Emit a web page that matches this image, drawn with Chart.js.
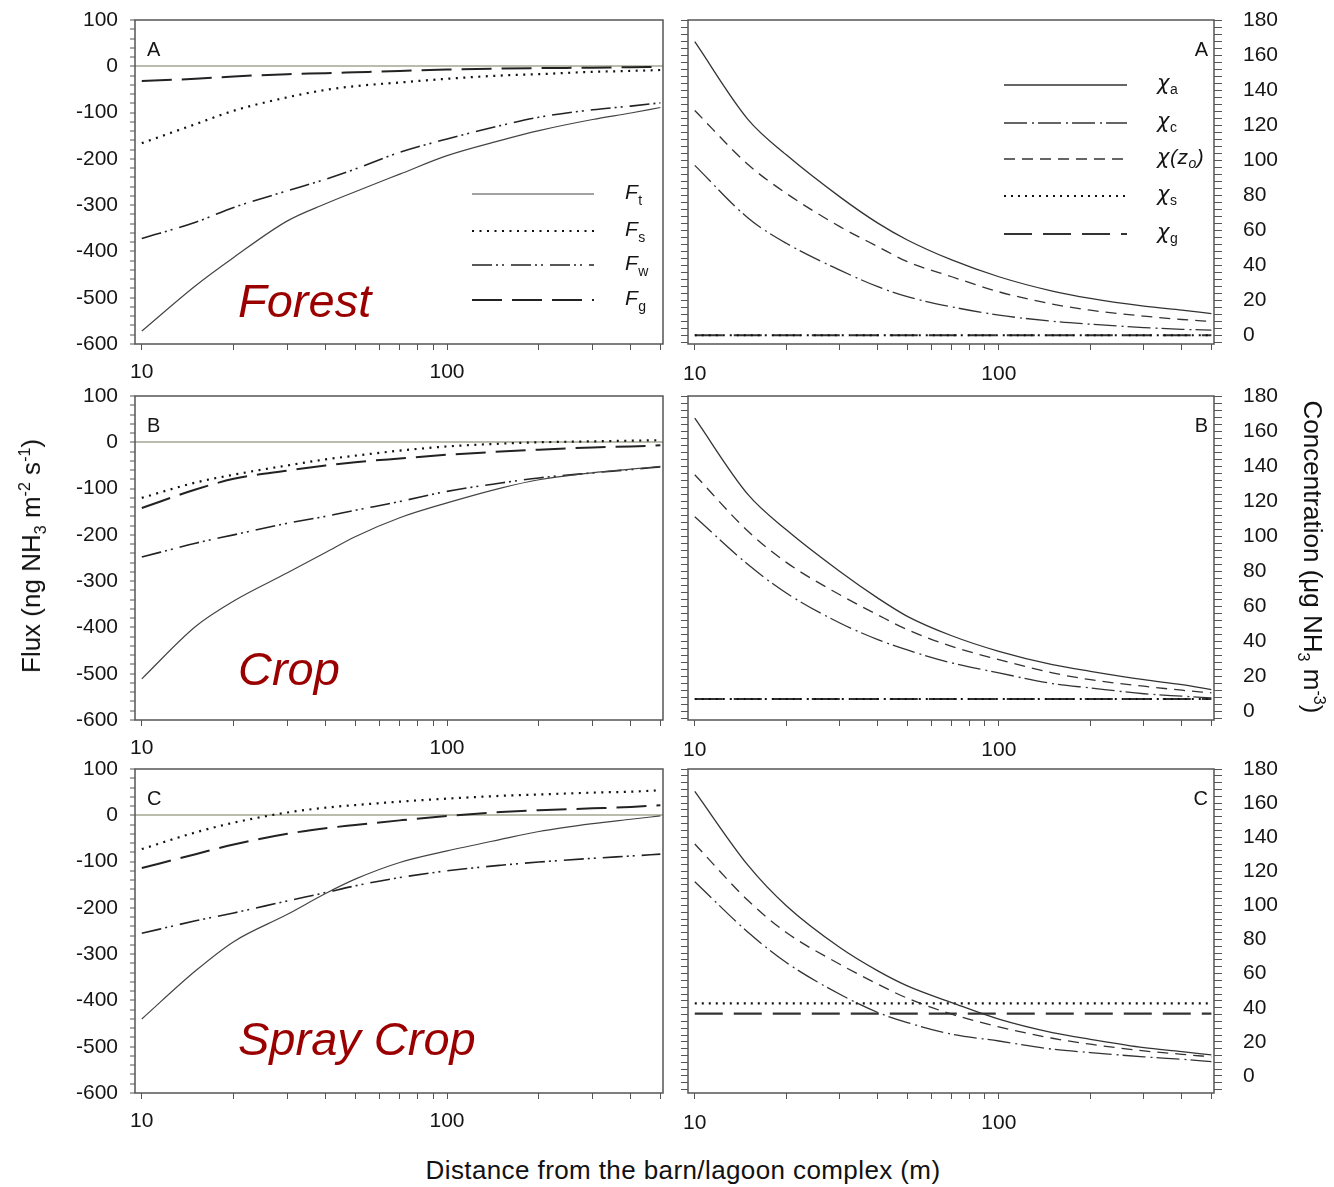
<!DOCTYPE html>
<html>
<head>
<meta charset="utf-8">
<script src="https://cdn.jsdelivr.net/npm/chart.js@4.4.1/dist/chart.umd.min.js"></script>
<style>
  body { margin: 0; background: #fff; width: 1334px; height: 1187px; position: relative; overflow: hidden;
         font-family: "Liberation Sans", Arial, sans-serif; color: #111; }
  canvas { position: absolute; }
  .title { position: absolute; white-space: nowrap; font-size: 26px; line-height: 1; }
  .title sub, .title sup { font-size: 0.62em; line-height: 0; }
  .rot-l { transform: translate(-50%, -50%) rotate(-90deg); }
  .rot-r { transform: translate(-50%, -50%) rotate(90deg); }
</style>
</head>
<body>

<canvas id="fluxA" width="640" height="384" style="left:40px; top:6px"></canvas>
<canvas id="concA" width="618" height="384" style="left:672px; top:6px"></canvas>
<canvas id="fluxB" width="640" height="384" style="left:40px; top:382px"></canvas>
<canvas id="concB" width="618" height="384" style="left:672px; top:382px"></canvas>
<canvas id="fluxC" width="640" height="384" style="left:40px; top:755px"></canvas>
<canvas id="concC" width="618" height="384" style="left:672px; top:755px"></canvas>

<div class="title rot-l" style="left:31px; top:556px">Flux (ng NH<sub>3</sub> m<sup>-2</sup> s<sup>-1</sup>)</div>
<div class="title rot-r" style="left:1313px; top:557px">Concentration (&mu;g NH<sub>3</sub> m<sup>-3</sup>)</div>
<div class="title" style="left:683px; top:1157px; letter-spacing:0.4px; transform: translateX(-50%)">Distance from the barn/lagoon complex (m)</div>

<script>
const distances = [10, 15, 20, 30, 40, 50, 70, 100, 150, 200, 300, 400, 500];

// flux, ng NH3 m-2 s-1  (Ft total, Fs stomatal, Fw cuticle/water, Fg ground)
const forestFt = [-572, -474, -413, -334, -297, -271, -233, -193, -160, -139, -115, -101, -89];
const forestFs = [-166, -125, -96, -67, -51, -43, -35, -27, -20, -17, -12, -10, -8];
const forestFw = [-372, -337, -305, -269, -244, -222, -186, -157, -128, -110, -94, -86, -79];
const forestFg = [-32, -27, -22, -17, -15, -13, -10, -7, -5, -4, -3, -2, -1];

const cropFt = [-511, -398, -343, -282, -238, -204, -163, -131, -99, -81, -66, -58, -52];
const cropFs = [-120, -87, -70, -50, -37, -29, -18, -9, -3, 0, 2, 3.5, 4.5];
const cropFw = [-248, -218, -200, -175, -160, -147, -128, -106, -88, -77, -66, -59, -53];
const cropFg = [-142, -102, -79, -61, -50, -43, -35, -27, -20, -16, -11, -9, -6.5];

const sprayFt = [-440, -336, -273, -214, -169, -138, -102, -77, -52, -35, -18, -8.6, -1.4];
const sprayFs = [-73, -37, -16, 6, 16.5, 22, 29.5, 36, 42, 45, 49, 51, 54];
const sprayFw = [-255, -228, -211, -185, -167, -152.5, -134.5, -120, -108, -101, -93, -88, -84];
const sprayFg = [-114, -84, -63, -40, -28, -21, -11, -1.4, 7, 11, 15, 18, 21.6];

// concentration, ug NH3 m-3
const forestXa = [167.6, 123, 103, 79, 64, 54.4, 43, 33.4, 25.2, 21, 16.6, 14.3, 12.4];
const forestXc = [97, 66.8, 52.5, 37.2, 27.7, 22, 16.2, 11.5, 8, 6.3, 4.4, 3.4, 2.9];
const forestXz0 = [128.3, 97.3, 81, 62, 50.6, 42, 33.4, 24.8, 17.8, 14.3, 10.9, 9, 7.8];
const forestXs = [0, 0, 0, 0, 0, 0, 0, 0, 0, 0, 0, 0, 0];
const forestXg = [0, 0, 0, 0, 0, 0, 0, 0, 0, 0, 0, 0, 0];

const cropXa = [167.3, 123.5, 103.6, 79.8, 64.6, 54.2, 43.1, 34.2, 26.6, 22.8, 18, 15.2, 12.4];
const cropXc = [111, 83.6, 67.5, 50.4, 40.9, 35, 27.6, 21.9, 15.8, 13.3, 10, 8.6, 7.6];
const cropXz0 = [135, 102.6, 85, 66.5, 55, 46.6, 37, 29.5, 21.9, 18, 14.3, 12, 10.5];
const cropXs = [7, 7, 7, 7, 7, 7, 7, 7, 7, 7, 7, 7, 7];
const cropXg = [7, 7, 7, 7, 7, 7, 7, 7, 7, 7, 7, 7, 7];

const sprayXa = [166.9, 123.3, 99.8, 75.3, 61.6, 52.8, 43, 33.3, 25.4, 21.5, 16.6, 14.3, 12.3];
const sprayXc = [113.9, 84.1, 66.5, 47.9, 37.2, 31.3, 24.5, 20.5, 15.7, 13.7, 11.2, 9.8, 8.4];
const sprayXz0 = [136, 102.7, 84.1, 65.5, 53.8, 45.6, 36.2, 28.8, 22.1, 18.6, 14.7, 12.7, 11.2];
const sprayXs = [42.5, 42.5, 42.5, 42.5, 42.5, 42.5, 42.5, 42.5, 42.5, 42.5, 42.5, 42.5, 42.5];
const sprayXg = [36.5, 36.5, 36.5, 36.5, 36.5, 36.5, 36.5, 36.5, 36.5, 36.5, 36.5, 36.5, 36.5];

// tick values
const xTicks = [10, 20, 30, 40, 50, 60, 70, 80, 90, 100, 200, 300, 400, 500];
const xTickLabels = [10, 100];
const fluxTicks = [];
for (let v = -600; v <= 100; v += 20) fluxTicks.push(v);
const concTicks = [];
for (let v = -8; v <= 180; v += 4) concTicks.push(v);

const FONT = '"Liberation Sans", Arial, sans-serif';
const GREEK = '"DejaVu Sans", "Liberation Sans", sans-serif';
Chart.defaults.font.family = FONT;
Chart.defaults.font.size = 21;
Chart.defaults.color = '#151515';

const fluxStyles = [
    { label: 'Ft', borderColor: '#444', borderWidth: 1.2, borderDash: [] },
    { label: 'Fs', borderColor: '#111', borderWidth: 2.2, borderDash: [2, 5.5] },
    { label: 'Fw', borderColor: '#222', borderWidth: 1.6, borderDash: [20, 4, 2, 4, 2, 7] },
    { label: 'Fg', borderColor: '#222', borderWidth: 2, borderDash: [30, 10] }
];
const concStyles = [
    { label: 'χa', borderColor: '#333', borderWidth: 1.3, borderDash: [] },
    { label: 'χc', borderColor: '#333', borderWidth: 1.3, borderDash: [23, 5, 2, 4] },
    { label: 'χ(z0)', borderColor: '#333', borderWidth: 1.3, borderDash: [11, 7] },
    { label: 'χs', borderColor: '#111', borderWidth: 2.2, borderDash: [2, 5] },
    { label: 'χg', borderColor: '#333', borderWidth: 2.2, borderDash: [28, 11] }
];

function toPoints(vals) {
    return distances.map((d, i) => ({ x: d, y: vals[i] }));
}

function buildSets(styles, seriesList) {
    return styles.map((s, i) => Object.assign({
        data: toPoints(seriesList[i]),
        pointRadius: 0,
        cubicInterpolationMode: 'monotone',
        fill: false,
        borderCapStyle: 'butt'
    }, s));
}

// frame, panel letter, site name and legend
const panelDecor = {
    id: 'panelDecor',
    afterDraw(chart, args, opts) {
        const ctx = chart.ctx;
        const a = chart.chartArea;
        ctx.save();
        ctx.strokeStyle = '#555';
        ctx.lineWidth = 1.5;
        ctx.setLineDash([]);
        ctx.strokeRect(a.left, a.top, a.right - a.left, a.bottom - a.top);

        ctx.fillStyle = '#151515';
        ctx.textBaseline = 'alphabetic';
        ctx.font = '20px ' + FONT;
        if (opts.side === 'left') {
            ctx.textAlign = 'left';
            ctx.fillText(opts.letter, a.left + 12, a.top + 36);
        } else {
            ctx.textAlign = 'right';
            ctx.fillText(opts.letter, a.right - 6, a.top + 36);
        }

        if (opts.site) {
            ctx.textAlign = 'left';
            ctx.fillStyle = '#9a0000';
            ctx.font = 'italic 47px ' + FONT;
            ctx.fillText(opts.site, a.left + 103, a.top + opts.siteY);
        }

        if (opts.legend) {
            const lg = opts.legend;
            chart.data.datasets.forEach((ds, i) => {
                const y = a.top + lg.ys[i];
                ctx.strokeStyle = ds.borderColor;
                ctx.lineWidth = ds.borderWidth;
                ctx.setLineDash(ds.borderDash);
                ctx.beginPath();
                ctx.moveTo(a.left + lg.x0, y);
                ctx.lineTo(a.left + lg.x1, y);
                ctx.stroke();
                let cx = a.left + lg.tx;
                ctx.fillStyle = '#151515';
                ctx.textAlign = 'left';
                lg.labels[i].forEach(p => {
                    ctx.font = (p.it ? 'italic ' : '') + (p.sub ? '14px ' : '21px ') + (p.greek ? GREEK : FONT);
                    ctx.fillText(p.t, cx, y + (p.sub ? lg.subDy : lg.dy));
                    cx += ctx.measureText(p.t).width + 0.5;
                });
            });
        }
        ctx.restore();
    }
};

function xAxis(labelPad) {
    return {
        type: 'logarithmic',
        min: 9.5,
        max: 510,
        afterBuildTicks: s => { s.ticks = xTicks.map(v => ({ value: v })); },
        afterFit: s => { s.height = 46; s.paddingLeft = 0; s.paddingRight = 0; },
        ticks: {
            autoSkip: false, maxRotation: 0, padding: labelPad,
            callback: v => xTickLabels.includes(v) ? String(v) : ''
        },
        grid: { drawOnChartArea: false, tickLength: 6, tickColor: '#555', color: '#555' },
        border: { display: false }
    };
}

function fitY(width) {
    return s => { s.width = width; s.paddingTop = 0; s.paddingBottom = 0; };
}

function makeFlux(id, series, letter, site, siteY, legend) {
    new Chart(document.getElementById(id), {
        type: 'line',
        data: { datasets: buildSets(fluxStyles, series) },
        options: {
            responsive: false, animation: false, devicePixelRatio: 1,
            layout: { padding: { top: 14, right: 17, left: 0, bottom: 0 } },
            plugins: {
                legend: { display: false }, tooltip: { enabled: false },
                panelDecor: { side: 'left', letter: letter, site: site, siteY: siteY, legend: legend }
            },
            scales: {
                x: xAxis(10),
                y: {
                    min: -600, max: 100,
                    afterBuildTicks: s => { s.ticks = fluxTicks.map(v => ({ value: v })); },
                    afterFit: fitY(95),
                    ticks: { autoSkip: false, padding: 12, callback: v => v % 100 === 0 ? String(v) : '' },
                    grid: {
                        color: c => (c.tick && c.tick.value === 0) ? '#bcbcae' : 'rgba(0,0,0,0)',
                        lineWidth: c => (c.tick && c.tick.value === 0) ? 2 : 0,
                        tickColor: '#555', tickWidth: 1, tickLength: 5
                    },
                    border: { display: false }
                }
            }
        },
        plugins: [panelDecor]
    });
}

function makeConc(id, series, letter, yMin, legend) {
    const ticksFor = s => { s.ticks = concTicks.filter(v => v >= yMin).map(v => ({ value: v })); };
    new Chart(document.getElementById(id), {
        type: 'line',
        data: { datasets: buildSets(concStyles, series) },
        options: {
            responsive: false, animation: false, devicePixelRatio: 1,
            layout: { padding: { top: 14, right: 0, left: 0, bottom: 0 } },
            plugins: {
                legend: { display: false }, tooltip: { enabled: false },
                panelDecor: { side: 'right', letter: letter, legend: legend }
            },
            scales: {
                x: xAxis(12),
                y: {
                    position: 'right', min: yMin, max: 180,
                    afterBuildTicks: ticksFor,
                    afterFit: fitY(76),
                    ticks: { autoSkip: false, padding: 21, callback: v => v % 20 === 0 && v >= 0 ? String(v) : '' },
                    grid: { drawOnChartArea: false, tickColor: '#555', color: '#555', tickLength: 8 },
                    border: { display: false }
                },
                yl: {
                    position: 'left', min: yMin, max: 180,
                    afterBuildTicks: ticksFor,
                    afterFit: fitY(16),
                    ticks: { autoSkip: false, padding: 0, callback: () => '' },
                    grid: { drawOnChartArea: false, tickColor: '#555', color: '#555', tickLength: 7 },
                    border: { display: false }
                }
            }
        },
        plugins: [panelDecor]
    });
}

const fluxLegend = {
    x0: 337, x1: 459, tx: 490, ys: [174, 211, 245, 280], dy: 5, subDy: 11,
    labels: [
        [{ t: 'F', it: true }, { t: 't', sub: true }],
        [{ t: 'F', it: true }, { t: 's', sub: true }],
        [{ t: 'F', it: true }, { t: 'w', sub: true }],
        [{ t: 'F', it: true }, { t: 'g', sub: true }]
    ]
};
const concLegend = {
    x0: 316, x1: 439, tx: 469, ys: [65, 103, 139, 176, 214], dy: 5, subDy: 9,
    labels: [
        [{ t: 'χ', it: true, greek: true }, { t: 'a', sub: true }],
        [{ t: 'χ', it: true, greek: true }, { t: 'c', sub: true }],
        [{ t: 'χ', it: true, greek: true }, { t: '(', it: true }, { t: 'z', it: true }, { t: 'o', sub: true, it: true }, { t: ')', it: true }],
        [{ t: 'χ', it: true, greek: true }, { t: 's', sub: true }],
        [{ t: 'χ', it: true, greek: true }, { t: 'g', sub: true }]
    ]
};

makeFlux('fluxA', [forestFt, forestFs, forestFw, forestFg], 'A', 'Forest', 297, fluxLegend);
makeFlux('fluxB', [cropFt, cropFs, cropFw, cropFg], 'B', 'Crop', 289, null);
makeFlux('fluxC', [sprayFt, sprayFs, sprayFw, sprayFg], 'C', 'Spray Crop', 286, null);

makeConc('concA', [forestXa, forestXc, forestXz0, forestXs, forestXg], 'A', -5, concLegend);
makeConc('concB', [cropXa, cropXc, cropXz0, cropXs, cropXg], 'B', -5, null);
makeConc('concC', [sprayXa, sprayXc, sprayXz0, sprayXs, sprayXg], 'C', -10, null);
</script>
</body>
</html>
